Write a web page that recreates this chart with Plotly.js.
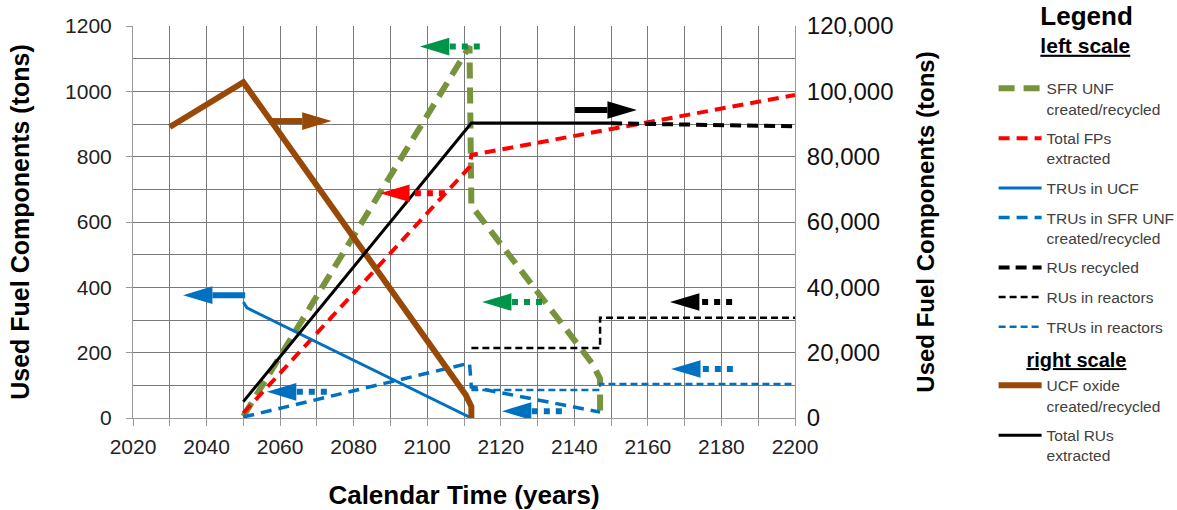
<!DOCTYPE html>
<html>
<head>
<meta charset="utf-8">
<script src="https://cdn.plot.ly/plotly-3.0.1.min.js"></script>
<style>
  html, body { margin: 0; padding: 0; background: #ffffff; }
  #chart { width: 1177px; height: 510px; }
</style>
</head>
<body>
<div id="chart"></div>
<script>
// ---------- data ----------
// left scale (tons)
const yearsSFR = [2050, 2111.5, 2112, 2145, 2147, 2147];
const sfrUNF = [5, 1138, 650, 165, 120, 0];

const yearsFP = [2050, 2111.5, 2112, 2200];
const totalFPs = [15, 768, 805, 989];

const yearsTruUCF = [2050, 2051, 2112];
const trusUCF = [355, 337, 0];

const yearsTruSFR = [2050, 2111.5, 2112, 2147];
const trusSFR = [3, 168, 95, 18];

const yearsRuRec = [2150, 2200];
const rusRecycled = [902, 893];

const yearsRuReac = [2112, 2147, 2147, 2200];
const rusReactors = [214, 214, 307, 307];

const yearsTruReac = [2112, 2147, 2147, 2200];
const trusReactors = [86, 86, 104, 104];

// right scale (tons)
const yearsUCF = [2030, 2050, 2110.5, 2112, 2112];
const ucfOxide = [89100, 102800, 7000, 3500, 0];

const yearsRuTot = [2050, 2112, 2150];
const totalRUs = [5000, 90300, 90300];

// axis ticks
const xTicks = [2020, 2040, 2060, 2080, 2100, 2120, 2140, 2160, 2180, 2200];
const yLeftTicks = [0, 200, 400, 600, 800, 1000, 1200];
const yRightTicks = [0, 20000, 40000, 60000, 80000, 100000, 120000];

// ---------- arrows (annotation positions, left-scale units) ----------
const arrowSpecs = [
  {tail: 2057.7, tip: 2074.0, y: 909,  color: '#984807', dotted: false},
  {tail: 2114.3, tip: 2098.0, y: 1137, color: '#00934A', dotted: true},
  {tail: 2104.8, tip: 2087.2, y: 688,  color: '#FF0000', dotted: true},
  {tail: 2140.2, tip: 2157.0, y: 943,  color: '#000000', dotted: false},
  {tail: 2131.2, tip: 2114.9, y: 355,  color: '#00934A', dotted: true},
  {tail: 2182.9, tip: 2166.0, y: 355,  color: '#000000', dotted: true},
  {tail: 2050.5, tip: 2033.6, y: 376,  color: '#0070C0', dotted: false},
  {tail: 2072.7, tip: 2056.4, y: 80,   color: '#0070C0', dotted: true},
  {tail: 2136.6, tip: 2120.3, y: 21,   color: '#0070C0', dotted: true},
  {tail: 2183.1, tip: 2166.3, y: 150,  color: '#0070C0', dotted: true}
];
const headLen = 8;    // years
const headHalf = 27;  // tons

const FONT = 'Arial, "Liberation Sans", sans-serif';
const NB = '\u00a0';

function tr(name, x, y, color, width, dash, group, groupTitle, axis, titleSize) {
  const t = {
    type: 'scatter', mode: 'lines', name: name, x: x, y: y,
    line: {color: color, width: width, dash: dash},
    legendgroup: group, hoverinfo: 'skip'
  };
  if (groupTitle) {
    t.legendgrouptitle = {text: groupTitle, font: {family: FONT, size: titleSize || 20, color: '#000'}};
  }
  if (axis) t.yaxis = axis;
  return t;
}

const rightTitle = NB + NB + NB + NB + NB + '<b><u>right scale</u></b>';

const traces = [
  tr('SFR UNF<br>created/recycled', yearsSFR, sfrUNF, '#77933C', 6, '16px,9px', 'g1', NB, null, 4),
  tr('Total FPs<br>extracted', yearsFP, totalFPs, '#FF0000', 4, '11px,7px', 'g2'),
  tr('TRUs in UCF', yearsTruUCF, trusUCF, '#0070C0', 3, 'solid', 'g3'),
  tr('TRUs in SFR UNF<br>created/recycled', yearsTruSFR, trusSFR, '#0070C0', 3.5, '11px,7px', 'g4'),
  tr('RUs recycled', yearsRuRec, rusRecycled, '#000000', 4, '11px,6px', 'g5'),
  tr('RUs in reactors', yearsRuReac, rusReactors, '#000000', 2.5, '7px,4px', 'g6'),
  tr('TRUs in reactors', yearsTruReac, trusReactors, '#0070C0', 2.5, '7px,4px', 'g7'),
  tr('UCF oxide<br>created/recycled', yearsUCF, ucfOxide, '#984807', 6, 'solid', 'g8', rightTitle, 'y2'),
  tr('Total RUs<br>extracted', yearsRuTot, totalRUs, '#000000', 3, 'solid', 'g9', null, 'y2')
];

const shapes = [];
arrowSpecs.forEach(a => {
  const dir = a.tip > a.tail ? 1 : -1;
  const base = a.tip - dir * headLen;
  shapes.push({
    type: 'line', xref: 'x', yref: 'y', layer: 'above',
    x0: a.tail, x1: base, y0: a.y, y1: a.y,
    line: {color: a.color, width: 6, dash: a.dotted ? 'dot' : 'solid'}
  });
  shapes.push({
    type: 'path', xref: 'x', yref: 'y', layer: 'above',
    path: 'M' + a.tip + ',' + a.y + ' L' + base + ',' + (a.y + headHalf) +
          ' L' + base + ',' + (a.y - headHalf) + ' Z',
    fillcolor: a.color, line: {color: a.color, width: 0}
  });
});

const gridCol = '#7a7a7a';
const layout = {
  width: 1177, height: 510,
  margin: {l: 133, r: 382, t: 26, b: 92, pad: 0, autoexpand: false},
  paper_bgcolor: '#ffffff', plot_bgcolor: '#ffffff',
  font: {family: FONT, color: '#222'},
  showlegend: true,
  xaxis: {
    range: [2020, 2200], tickvals: xTicks, ticktext: xTicks.map(String),
    automargin: false,
    showgrid: true, gridcolor: gridCol, gridwidth: 1,
    minor: {dtick: 10, tick0: 2020, showgrid: true, gridcolor: gridCol, gridwidth: 1,
            ticks: 'outside', ticklen: 7, tickcolor: '#999'},
    ticks: 'outside', ticklen: 7, tickcolor: '#999',
    showline: true, linecolor: '#999', linewidth: 1,
    zeroline: false, ticklabelstandoff: 3,
    tickfont: {family: FONT, size: 21, color: '#222'},
    title: {text: '<b>Calendar Time (years)</b>',
            font: {family: FONT, size: 26, color: '#000'}, standoff: 33}
  },
  yaxis: {
    range: [0, 1200], tickvals: yLeftTicks, ticktext: yLeftTicks.map(String),
    automargin: false,
    showgrid: true, gridcolor: gridCol, gridwidth: 1,
    minor: {dtick: 100, tick0: 0, showgrid: true, gridcolor: gridCol, gridwidth: 1},
    ticks: 'outside', ticklen: 6, tickcolor: '#999',
    showline: true, linecolor: '#999', linewidth: 1,
    zeroline: false, ticklabelstandoff: 10,
    tickfont: {family: FONT, size: 21, color: '#222'},
    title: {text: '<b>Used Fuel Components (tons)</b>', font: {family: FONT, size: 25, color: '#000'}, standoff: 28}
  },
  yaxis2: {
    overlaying: 'y', side: 'right',
    range: [0, 120000], tickvals: yRightTicks,
    ticktext: yRightTicks.map(v => v.toLocaleString('en-US')),
    automargin: false,
    showgrid: false, zeroline: false,
    showline: true, linecolor: '#999', linewidth: 1,
    ticks: '', ticklabelstandoff: 6,
    tickfont: {family: FONT, size: 24, color: '#111'},
    title: {text: '<b>Used Fuel Components (tons)</b>', font: {family: FONT, size: 24, color: '#000'}, standoff: 24}
  },
  legend: {
    x: 1.300, xanchor: 'left', y: 1.071, yanchor: 'top',
    bgcolor: 'rgba(0,0,0,0)', borderwidth: 0, maxheight: 700,
    font: {family: FONT, size: 15.5, color: '#404040'},
    title: {text: '<span style="font-size:26px"><b>Legend</b></span><br><b><u>left scale</u></b>',
            side: 'top center', font: {family: FONT, size: 21, color: '#000'}},
    traceorder: 'grouped', tracegroupgap: 6.5, valign: 'top',
    itemwidth: 43, itemclick: false, itemdoubleclick: false
  },
  shapes: shapes
};

Plotly.newPlot('chart', traces, layout, {displayModeBar: false, staticPlot: true});
</script>
</body>
</html>
